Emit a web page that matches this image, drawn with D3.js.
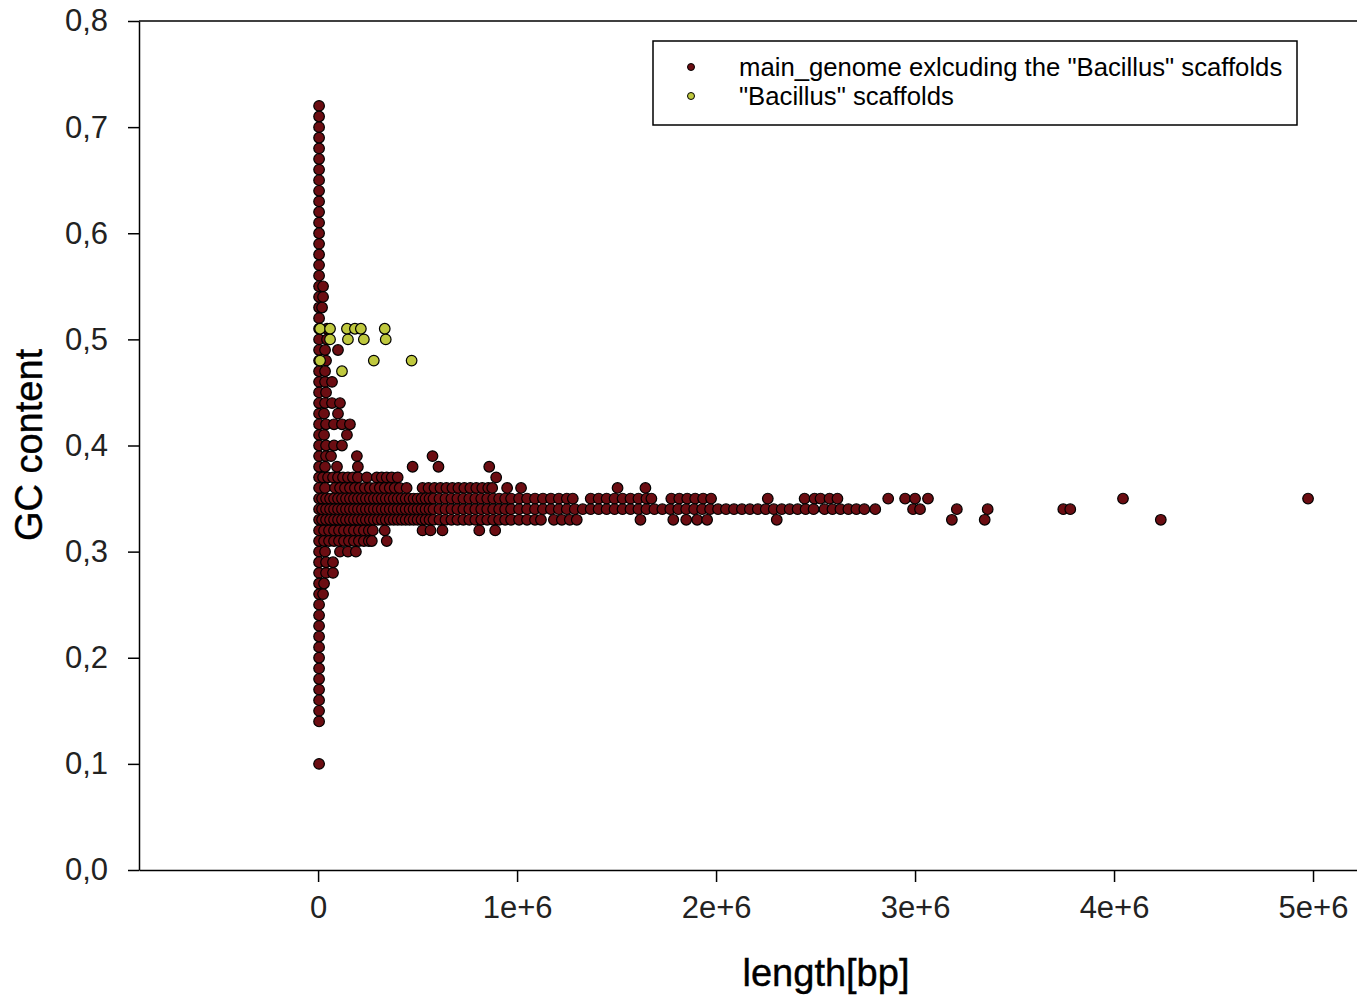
<!DOCTYPE html>
<html>
<head>
<meta charset="utf-8">
<script src="https://cdn.jsdelivr.net/npm/d3@7"></script>
<style>
  html, body { margin: 0; padding: 0; background: #fff; }
  svg { display: block; }
  text { font-family: "Liberation Sans", Arial, sans-serif; }
</style>
</head>
<body>
<script>
// ---------- data (length in kb, GC fraction) ----------
const xTickValues = [0, 1000, 2000, 3000, 4000, 5000];           // kb
const xTickLabels = ["0", "1e+6", "2e+6", "3e+6", "4e+6", "5e+6"];
const yTickValues = [0, 0.1, 0.2, 0.3, 0.4, 0.5, 0.6, 0.7, 0.8];
const yTickLabels = ["0,0", "0,1", "0,2", "0,3", "0,4", "0,5", "0,6", "0,7", "0,8"];
const seriesNames = ['main_genome exlcuding the "Bacillus" scaffolds', '"Bacillus" scaffolds'];

// main genome: rows of [GC, lengths in kb]
const mainRows = [
  [0.72, [5]], [0.71, [5]], [0.70, [5]], [0.69, [5]], [0.68, [5]], [0.67, [5]],
  [0.66, [5]], [0.65, [5]], [0.64, [5]], [0.63, [5]], [0.62, [5]], [0.61, [5]],
  [0.60, [5]], [0.59, [5]], [0.58, [5]], [0.57, [5]], [0.56, [5]],
  [0.55, [5, 25]], [0.54, [5, 25]], [0.53, [5, 20]], [0.52, [5]],
  [0.51, [5, 45]], [0.50, [5, 45]], [0.49, [5, 35, 100]], [0.48, [5, 40]],
  [0.47, [5, 35]], [0.46, [5, 35, 70]], [0.45, [5, 40]], [0.44, [5, 35, 70, 110]],
  [0.43, [5, 30, 100]], [0.42, [5, 40, 80, 120, 160]], [0.41, [5, 30, 145]],
  [0.40, [5, 40, 80, 120]], [0.39, [5, 40, 65, 195, 575]],
  [0.38, [5, 35, 95, 200, 475, 605, 860]],
  [0.37, [5, 25, 50, 75, 100, 125, 150, 175, 200, 245, 295, 320, 345, 370, 400, 895]],
  [0.36, [5, 35, 85, 110, 135, 160, 185, 210, 235, 260, 285, 310, 335, 360, 385, 410, 445,
          525, 555, 585, 615, 645, 675, 705, 735, 765, 795, 825, 855, 875, 950, 1020, 1505, 1645]],
  [0.35, [5, 20, 40, 60, 80, 100, 120, 140, 160, 180, 200, 220, 240, 260, 280, 300, 320, 340,
          360, 380, 400, 420, 440, 460, 480, 500, 520, 540, 560, 580, 610, 640, 670, 700, 730,
          760, 790, 820, 850, 880, 910, 940, 970, 1010, 1050, 1090,
          1130, 1170, 1210, 1250, 1280, 1370, 1410, 1450, 1490, 1530, 1570, 1610, 1650, 1675,
          1775, 1815, 1855, 1895, 1935, 1975, 2260, 2445, 2495, 2525, 2570, 2610, 2865, 2950,
          3000, 3065, 4045, 4975]],
  [0.34, [5, 20, 40, 60, 80, 100, 120, 140, 160, 180, 200, 220, 240, 260, 280, 300, 320, 340,
          360, 380, 400, 420, 440, 460, 480, 500, 520, 540, 560, 580, 610, 640, 670, 700, 730,
          760, 790, 820, 850, 880, 910, 940, 970, 1010, 1050, 1090,
          1130, 1170, 1210, 1250, 1290, 1330, 1370, 1410, 1450, 1490, 1530, 1570, 1610, 1650,
          1690, 1730, 1770, 1810, 1850, 1890, 1930, 1970, 2010, 2050, 2090, 2130, 2170, 2210,
          2250, 2290, 2330, 2370, 2410, 2450, 2490, 2545, 2585, 2625, 2665, 2705, 2745, 2800,
          2990, 3025, 3210, 3365, 3745, 3780]],
  [0.33, [5, 20, 40, 60, 80, 100, 120, 140, 160, 180, 200, 220, 240, 260, 280, 300, 320, 340,
          360, 380, 400, 420, 440, 460, 480, 500, 520, 540, 560, 580, 610, 640, 670, 700, 730,
          760, 790, 820, 850, 880, 910, 940, 970, 1010, 1050, 1090,
          1120, 1185, 1225, 1265, 1300, 1620, 1785, 1850, 1905, 1955, 2305, 3185, 3350, 4235]],
  [0.32, [5, 30, 55, 80, 105, 130, 155, 180, 205, 230, 255, 275, 335, 525, 565, 625, 810, 890]],
  [0.31, [5, 30, 55, 80, 105, 130, 155, 180, 205, 230, 255, 270, 345]],
  [0.30, [5, 35, 110, 150, 190]],
  [0.29, [5, 40, 75]], [0.28, [5, 40, 75]], [0.27, [5, 30]], [0.26, [5, 25]],
  [0.25, [5]], [0.24, [5]], [0.23, [5]], [0.22, [5]], [0.21, [5]], [0.20, [5]],
  [0.19, [5]], [0.18, [5]], [0.17, [5]], [0.16, [5]], [0.15, [5]], [0.14, [5]],
  [0.10, [5]]
];

// "Bacillus" scaffolds: rows of [GC, lengths in kb]
const bacillusRows = [
  [0.51, [10, 60, 145, 185, 215, 335]],
  [0.50, [60, 150, 230, 340]],
  [0.48, [10, 280, 470]],
  [0.47, [120]]
];

// ---------- layout ----------
const W = 1357, H = 999;
const plot = { left: 139, right: 1357, top: 21, bottom: 870 };
const colors = { main: "#6b0d12", bacillus: "#bfc83e", stroke: "#000" };

const flatten = rows => rows.flatMap(([gc, lens]) => lens.map(l => ({ len: l, gc })));
const mainData = flatten(mainRows);
const bacData = flatten(bacillusRows);

const x = d3.scaleLinear().domain([-900, 5221]).range([plot.left, plot.right]);
const y = d3.scaleLinear().domain([0, 0.8]).range([plot.bottom, plot.top]);

const svg = d3.select("body").append("svg").attr("width", W).attr("height", H);

// frame: top line
svg.append("line")
  .attr("x1", plot.left).attr("x2", plot.right)
  .attr("y1", plot.top).attr("y2", plot.top)
  .attr("stroke", "#000").attr("stroke-width", 1.5);

// y axis
const yAxis = d3.axisLeft(y).tickValues(yTickValues)
  .tickFormat((d, i) => yTickLabels[i]).tickSize(11).tickSizeOuter(0).tickPadding(20);
const gy = svg.append("g").attr("transform", `translate(${plot.left},0)`).call(yAxis);
gy.select(".domain").attr("stroke-width", 1.5);
gy.selectAll(".tick line").attr("stroke-width", 1.5);
gy.selectAll(".tick text").attr("font-size", 31).attr("fill", "#222")
  .attr("font-family", '"Liberation Sans", Arial, sans-serif');

// x axis
const xAxis = d3.axisBottom(x).tickValues(xTickValues)
  .tickFormat((d, i) => xTickLabels[i]).tickSize(12).tickSizeOuter(0).tickPadding(14);
const gx = svg.append("g").attr("transform", `translate(0,${plot.bottom})`).call(xAxis);
gx.select(".domain").attr("stroke-width", 1.5);
gx.selectAll(".tick line").attr("stroke-width", 1.5);
gx.selectAll(".tick text").attr("font-size", 31).attr("fill", "#222")
  .attr("font-family", '"Liberation Sans", Arial, sans-serif');

// axis titles
svg.append("text")
  .attr("transform", `translate(29,445) rotate(-90)`)
  .attr("text-anchor", "middle").attr("dominant-baseline", "central")
  .attr("font-size", 38).attr("fill", "#000").attr("stroke", "#000").attr("stroke-width", 0.4)
  .text("GC content");
svg.append("text")
  .attr("x", 826).attr("y", 986)
  .attr("text-anchor", "middle")
  .attr("font-size", 38).attr("fill", "#000").attr("stroke", "#000").attr("stroke-width", 0.4)
  .text("length[bp]");

// points
const gp = svg.append("g");
gp.selectAll("circle.main").data(mainData).join("circle")
  .attr("class", "main")
  .attr("cx", d => x(d.len)).attr("cy", d => y(d.gc)).attr("r", 5.3)
  .attr("fill", colors.main).attr("stroke", colors.stroke).attr("stroke-width", 1.2);
gp.selectAll("circle.bac").data(bacData).join("circle")
  .attr("class", "bac")
  .attr("cx", d => x(d.len)).attr("cy", d => y(d.gc)).attr("r", 5.3)
  .attr("fill", colors.bacillus).attr("stroke", colors.stroke).attr("stroke-width", 1.2);

// legend
const lg = svg.append("g");
lg.append("rect").attr("x", 653).attr("y", 41).attr("width", 644).attr("height", 84)
  .attr("fill", "#fff").attr("stroke", "#000").attr("stroke-width", 1.5);
const legendItems = [
  { name: seriesNames[0], color: colors.main },
  { name: seriesNames[1], color: colors.bacillus }
];
legendItems.forEach((it, i) => {
  const cy = 67 + i * 29;
  lg.append("circle").attr("cx", 691).attr("cy", cy).attr("r", 3.5)
    .attr("fill", it.color).attr("stroke", "#000").attr("stroke-width", 1);
  lg.append("text").attr("x", 739).attr("y", cy + 9)
    .attr("font-size", 25.7).attr("fill", "#000").text(it.name);
});
</script>
</body>
</html>
